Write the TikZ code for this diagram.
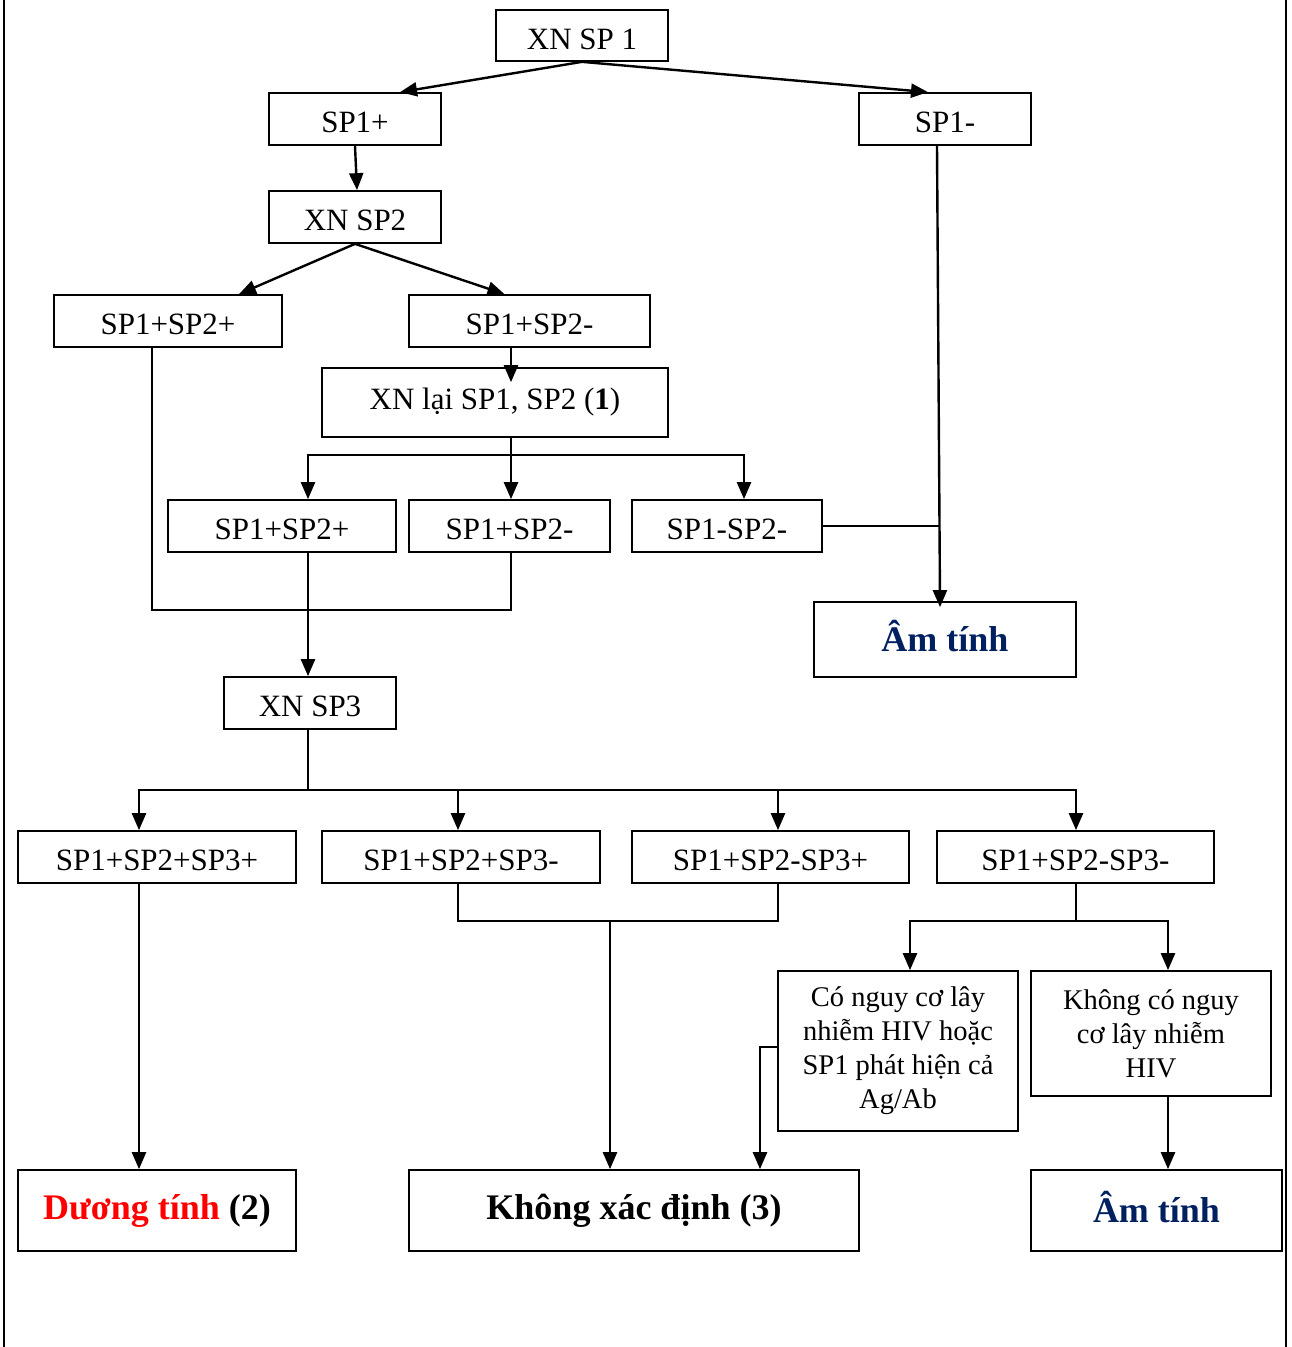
\documentclass[tikz,border=0pt]{standalone}
\usepackage{fontspec}
\setmainfont{Liberation Serif}
\usetikzlibrary{arrows.meta}
\definecolor{posred}{HTML}{FF0000}
\definecolor{negblue}{HTML}{002060}
\tikzset{
  box/.style={draw, line width=1.7pt, inner sep=0pt, anchor=center, align=center,
    font=\fontsize{31}{36}\selectfont},
  lowtext/.style={text height=27pt, text depth=0pt},
  smallbox/.style={box, font=\fontsize{28.5}{34}\selectfont},
  bigbox/.style={box, font=\fontsize{36}{40}\selectfont\bfseries},
  negbox/.style={bigbox, text=negblue, text depth=7pt},
  arr/.style={line width=2.4pt, -{Triangle[length=17pt,width=14pt]}},
  conn/.style={line width=1.7pt},
}
\begin{document}
\begin{tikzpicture}[x=1pt,y=-1pt]
\useasboundingbox (0,0) rectangle (1292,1347);
\draw[line width=2pt] (4,0) -- (4,1347);
\draw[line width=2pt] (1286,0) -- (1286,1347);

\node[box, lowtext, minimum width=172, minimum height=51] (xn1) at (582,35.5) {XN SP 1};
\node[box, lowtext, minimum width=172, minimum height=52] (sp1p) at (355,119) {SP1+};
\node[box, lowtext, minimum width=172, minimum height=52] (sp1m) at (945,119) {SP1-};
\node[box, lowtext, minimum width=172, minimum height=52] (xn2) at (355,217) {XN SP2};
\node[box, lowtext, minimum width=228, minimum height=52] (a1) at (168,321) {SP1+SP2+};
\node[box, lowtext, minimum width=241, minimum height=52] (a2) at (529.5,321) {SP1+SP2-};
\node[box, minimum width=346, minimum height=69] (xnl) at (495,402.5) {XN lại SP1, SP2 (\textbf{1})};
\node[box, lowtext, minimum width=228, minimum height=52] (b1) at (282,526) {SP1+SP2+};
\node[box, lowtext, minimum width=201, minimum height=52] (b2) at (509.5,526) {SP1+SP2-};
\node[box, lowtext, minimum width=190, minimum height=52] (b3) at (727,526) {SP1-SP2-};
\node[negbox, minimum width=262, minimum height=75] (am1) at (945,639.5) {Âm tính};
\node[box, lowtext, minimum width=172, minimum height=52] (xn3) at (310,703) {XN SP3};
\node[box, lowtext, minimum width=278, minimum height=52] (c1) at (157,857) {SP1+SP2+SP3+};
\node[box, lowtext, minimum width=278, minimum height=52] (c2) at (461,857) {SP1+SP2+SP3-};
\node[box, lowtext, minimum width=277, minimum height=52] (c3) at (770.5,857) {SP1+SP2-SP3+};
\node[box, lowtext, minimum width=277, minimum height=52] (c4) at (1075.5,857) {SP1+SP2-SP3-};
\node[smallbox, minimum width=240, minimum height=160] (d1) at (898,1051) {Có nguy cơ lây\\nhiễm HIV hoặc\\SP1 phát hiện cả\\Ag/Ab};
\node[smallbox, minimum width=240, minimum height=125] (d2) at (1151,1033.5) {Không có nguy\\cơ lây nhiễm\\HIV};
\node[bigbox, minimum width=278, minimum height=81] (e1) at (157,1210.5) {\textcolor{posred}{Dương tính} (2)};
\node[bigbox, minimum width=450, minimum height=81] (e2) at (634,1210.5) {Không xác định (3)};
\node[negbox, minimum width=251, minimum height=81] (e3) at (1156.5,1210.5) {Âm tính};

% junctions
\coordinate (j1) at (511,455);
\coordinate (j2) at (939,526);
\coordinate (j3) at (511,610);
\coordinate (j4) at (308,790);
\coordinate (j5) at (610,921);
\coordinate (j6) at (1076,921);
\coordinate (a2b) at ([xshift=-18.5]a2.south);
\coordinate (c2b) at ([xshift=-3]c2.south);
\coordinate (c3b) at ([xshift=7.5]c3.south);

\draw[arr] (xn1.south) -- ([xshift=45]sp1p.north);
\draw[arr] (xn1.south) -- ([xshift=-17]sp1m.north);
\draw[arr] (sp1p.south) -- ([xshift=2]xn2.north);
\draw[arr] (xn2.south) -- ([xshift=71]a1.north);
\draw[arr] (xn2.south) -- ([xshift=-25]a2.north);
\draw[arr, shorten >=-15pt] (a2b) -- (a2b |- xnl.north);
\draw[arr] ([xshift=16]xnl.south) -- ([xshift=1.5]b2.north);
\draw[arr] (j1) -| ([xshift=26]b1.north);
\draw[arr] (j1) -| ([xshift=17]b3.north);
\draw[arr, shorten >=-6pt] ([xshift=-8]sp1m.south) -- ([xshift=-5]am1.north);
\draw[conn] (b3.east) -- (j2);
\draw[conn] ([xshift=-16]a1.south) |- (j3) -- ([xshift=1.5]b2.south);
\draw[arr] ([xshift=26]b1.south) -- ([xshift=-2]xn3.north);
\draw[conn] ([xshift=-2]xn3.south) -- (j4);
\draw[arr] (j4) -| ([xshift=-18]c1.north);
\draw[arr] (j4) -| ([xshift=-3]c2.north);
\draw[arr] (j4) -| ([xshift=7.5]c3.north);
\draw[arr] (j4) -| ([xshift=0.5]c4.north);
\draw[arr] ([xshift=-18]c1.south) -- ([xshift=-18]e1.north);
\draw[conn] (c2b) |- (j5) -| (c3b);
\draw[arr] (j5) -- (j5 |- e2.north);
\draw[conn] ([xshift=0.5]c4.south) -- (j6);
\draw[arr] (j6) -| ([xshift=12]d1.north);
\draw[arr] (j6) -| ([xshift=17]d2.north);
\draw[arr] ([yshift=4]d1.west) -| ([xshift=126]e2.north);
\draw[arr] ([xshift=17]d2.south) -- ([xshift=11.5]e3.north);
\end{tikzpicture}
\end{document}
